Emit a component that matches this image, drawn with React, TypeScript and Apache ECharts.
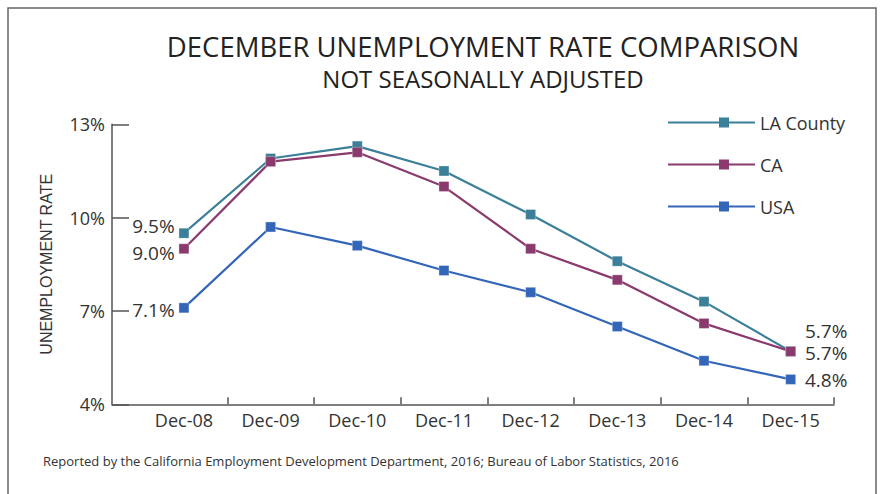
import React, { useEffect, useRef } from "react";
import * as echarts from "echarts";

const categories = ["Dec-08", "Dec-09", "Dec-10", "Dec-11", "Dec-12", "Dec-13", "Dec-14", "Dec-15"];
const laCounty = [9.5, 11.9, 12.3, 11.5, 10.1, 8.6, 7.3, 5.7];
const california = [9.0, 11.8, 12.1, 11.0, 9.0, 8.0, 6.6, 5.7];
const usa = [7.1, 9.7, 9.1, 8.3, 7.6, 6.5, 5.4, 4.8];
const yTicks = [4, 7, 10, 13];

const FONT = "'Open Sans', 'Noto Sans', sans-serif";

const seriesSpec = [
  { name: "LA County", color: "#3B7F98", values: laCounty, startDy: -7, endDy: -20 },
  { name: "CA", color: "#8B3A6E", values: california, startDy: 4, endDy: 1.5 },
  { name: "USA", color: "#3366B8", values: usa, startDy: 2, endDy: 1 },
];

export default function App() {
  const ref = useRef<HTMLDivElement>(null);
  useEffect(() => {
    if (!ref.current) return;
    const chart = echarts.init(ref.current, null, { renderer: "svg" });
    const last = categories.length - 1;
    const labelBase = {
      show: true,
      fontSize: 19,
      lineHeight: 19,
      color: "#333",
      fontFamily: FONT,
      formatter: (p: any) => Number(p.value[1]).toFixed(1) + "%",
    };
    const series = seriesSpec.map((s) => ({
      type: "line",
      name: s.name,
      color: s.color,
      symbol: "rect",
      symbolSize: 10,
      lineStyle: { width: 2.2, color: s.color },
      itemStyle: { color: s.color, borderColor: "rgba(255,255,255,0.5)", borderWidth: 0.6 },
      label: { show: false },
      data: s.values.map((v, i) => {
        const item: any = { value: [i, v] };
        if (i === 0) {
          item.label = { ...labelBase, position: "left", distance: 4, offset: [0, s.startDy] };
        } else if (i === last) {
          item.label = { ...labelBase, position: "right", distance: 9, offset: [0, s.endDy] };
        }
        return item;
      }),
    }));
    chart.setOption({
      animation: false,
      backgroundColor: "#fff",
      title: [
        {
          text: "DECEMBER UNEMPLOYMENT RATE COMPARISON",
          left: 478,
          top: 27,
          textAlign: "center",
          textStyle: { fontSize: 27.5, fontWeight: "normal", color: "#222", fontFamily: FONT },
        },
        {
          text: "NOT SEASONALLY ADJUSTED",
          left: 478,
          top: 61,
          textAlign: "center",
          textStyle: { fontSize: 24, fontWeight: "normal", color: "#222", fontFamily: FONT },
        },
      ],
      legend: {
        orient: "vertical",
        left: 663,
        top: 107,
        itemWidth: 87,
        itemHeight: 10,
        itemGap: 21,
        icon: "path://M0,4H87V6H0Z M51,0H61V10H51Z",
        itemStyle: { borderWidth: 0, borderColor: "transparent" },
        textStyle: { fontSize: 18, color: "#333", fontFamily: FONT, lineHeight: 21 },
        data: seriesSpec.map((s) => s.name),
      },
      grid: { left: 112, right: 48, top: 124.3, bottom: 89.7, containLabel: false },
      xAxis: {
        type: "value",
        min: -0.83,
        max: 7.5,
        axisLine: { show: true, onZero: false, lineStyle: { color: "#555", width: 1.5 } },
        axisTick: {
          show: true,
          inside: true,
          length: 7,
          lineStyle: { color: "#555", width: 1.5 },
          customValues: [0.5, 1.5, 2.5, 3.5, 4.5, 5.5, 6.5, 7.5],
        },
        axisLabel: {
          customValues: categories.map((_, i) => i),
          formatter: (v: number) => categories[Math.round(v)] ?? "",
          fontSize: 18,
          color: "#333",
          fontFamily: FONT,
          margin: 7,
        },
        splitLine: { show: false },
      },
      yAxis: {
        type: "value",
        min: 4,
        max: 13,
        interval: 3,
        name: "UNEMPLOYMENT RATE",
        nameLocation: "middle",
        nameRotate: 90,
        nameGap: 58,
        nameTextStyle: { fontSize: 16, color: "#333", fontFamily: "'Liberation Sans', Arial, sans-serif" },
        axisLine: { show: true, onZero: false, lineStyle: { color: "#555", width: 1.5 } },
        axisTick: { show: true, inside: true, length: 17, lineStyle: { color: "#555", width: 1.5 }, customValues: yTicks },
        axisLabel: {
          formatter: "{value}%",
          fontSize: 18,
          color: "#333",
          fontFamily: FONT,
          margin: 7,
          customValues: yTicks,
        },
        splitLine: { show: false },
      },
      graphic: [
        {
          type: "rect",
          shape: { x: 8, y: 8, width: 868, height: 500 },
          style: { fill: "none", stroke: "#666", lineWidth: 1.5 },
          silent: true,
        },
        {
          type: "text",
          x: 43,
          y: 461,
          style: {
            text: "Reported by the California Employment Development Department, 2016; Bureau of Labor Statistics, 2016",
            fontSize: 13,
            fill: "#333",
            fontFamily: FONT,
            verticalAlign: "middle",
          },
        },
      ],
      series,
    });
    return () => chart.dispose();
  }, []);
  return (
    <div
      ref={ref}
      style={{ position: "absolute", left: 0, top: 0, width: 882, height: 494, background: "#fff" }}
    />
  );
}
